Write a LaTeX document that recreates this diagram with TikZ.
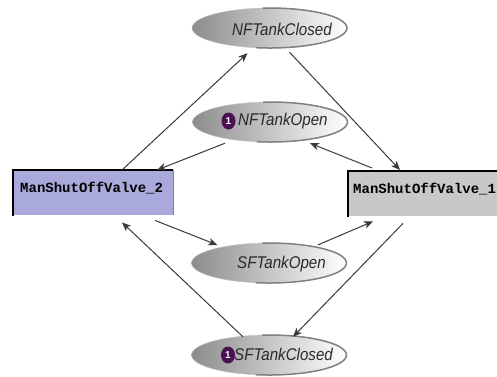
\documentclass[tikz,border=0pt]{standalone}
\usepackage{fontspec}
\setmainfont{Liberation Sans}
\newfontfamily\valvefont{Liberation Mono}
\usetikzlibrary{arrows.meta,shapes.geometric}
\definecolor{lavender}{HTML}{A9A9DC}
\definecolor{boxgray}{HTML}{C8C8C8}
\definecolor{badgepurple}{HTML}{4A1052}
\definecolor{edgegray}{HTML}{3A3A3A}
\definecolor{labelgray}{HTML}{2A2A2A}
\definecolor{rimgray}{HTML}{808080}

\begin{document}
\begin{tikzpicture}[x=1pt,y=-1pt,
  state/.style={ellipse, minimum width=155pt, minimum height=40pt, inner sep=0pt,
    left color=black!45, middle color=black!15, right color=white, draw=black!25, line width=0.4pt},
  rim/.style={draw=rimgray, line width=1.5pt},
  statetext/.style={anchor=west, inner sep=0pt, text=labelgray,
    font=\fontsize{17}{17}\selectfont\itshape, xscale=0.89},
  badge/.style={ellipse, minimum width=14pt, minimum height=17pt, inner sep=0pt,
    fill=badgepurple, text=white, font=\fontsize{10}{10}\selectfont\bfseries},
  valve/.style={rectangle, anchor=north west, minimum height=45pt, align=left,
    inner ysep=6pt, text height=16pt, text depth=17pt,
    font=\valvefont\bfseries\fontsize{14}{14}\selectfont},
  frame/.style={draw=black, line width=2.2pt},
  flow/.style={draw=edgegray, line width=1pt, -{Stealth[length=9pt,width=7.5pt,inset=2.5pt]}}
]
\clip (0,0) rectangle (497,376);
\fill[white] (0,0) rectangle (497,376);

% places
\node[state] (nfc) at (269.5,28) {};
\node[state] (nfo) at (270,122) {};
\node[state] (sfo) at (269,263) {};
\node[state] (sfc) at (269,355) {};
\foreach \p in {nfc,nfo,sfo,sfc}
  \draw[rim] ([shift={(-100:77.5pt and 20pt)}]\p.center)
    arc[start angle=-100, end angle=95, x radius=77.5pt, y radius=20pt];

\node[statetext] (nfct) at (232,29) {NFTankClosed};
\node[badge] (nfob) at (228.5,121) {1};
\node[statetext] (nfot) at (238,121) {NFTankOpen};
\node[statetext] (sfot) at (237,264) {SFTankOpen};
\node[badge] (sfcb) at (228,355) {1};
\node[statetext] (sfct) at (234,354) {SFTankClosed};

% valves
\node[valve, fill=lavender, text width=146pt, inner xsep=7pt] (msv2) at (13,170) {ManShutOffValve\_2};
\node[valve, fill=boxgray, text width=146pt, inner xsep=5pt] (msv1) at (348,171) {ManShutOffValve\_1};
\draw[frame] ([yshift=-1pt]msv2.south west) -- (msv2.north west) -- (msv2.north east);
\draw[frame] ([yshift=-1pt]msv1.south west) -- (msv1.north west) -- (msv1.north east);
\draw[rimgray, line width=0.8pt] (msv2.north east) -- (msv2.south east);

% transitions
\draw[flow] ([xshift=109pt]msv2.north west) -- ([xshift=-22pt,yshift=-5pt]nfc.south);
\draw[flow] ([xshift=20pt,yshift=-4pt]nfc.south) -- ([xshift=52pt,yshift=1pt]msv1.north west);
\draw[flow] ([xshift=24pt,yshift=3pt]msv1.north west) -- ([xshift=40pt,yshift=-1pt]nfo.south);
\draw[flow] ([xshift=-45pt,yshift=-1pt]nfo.south) -- ([xshift=144pt]msv2.north west);
\draw[flow] ([xshift=142pt,yshift=-5pt]msv2.south west) -- ([xshift=26pt,yshift=18pt]sfo.west);
\draw[flow] ([xshift=-29pt,yshift=18pt]sfo.east) -- ([xshift=25pt,yshift=-5pt]msv1.south west);
\draw[flow] ([xshift=55pt,yshift=-7pt]msv1.south west) -- ([xshift=24pt,yshift=-2pt]sfc.north);
\draw[flow] ([xshift=-26pt,yshift=-2pt]sfc.north) -- ([xshift=109pt,yshift=-7pt]msv2.south west);
\end{tikzpicture}
\end{document}
